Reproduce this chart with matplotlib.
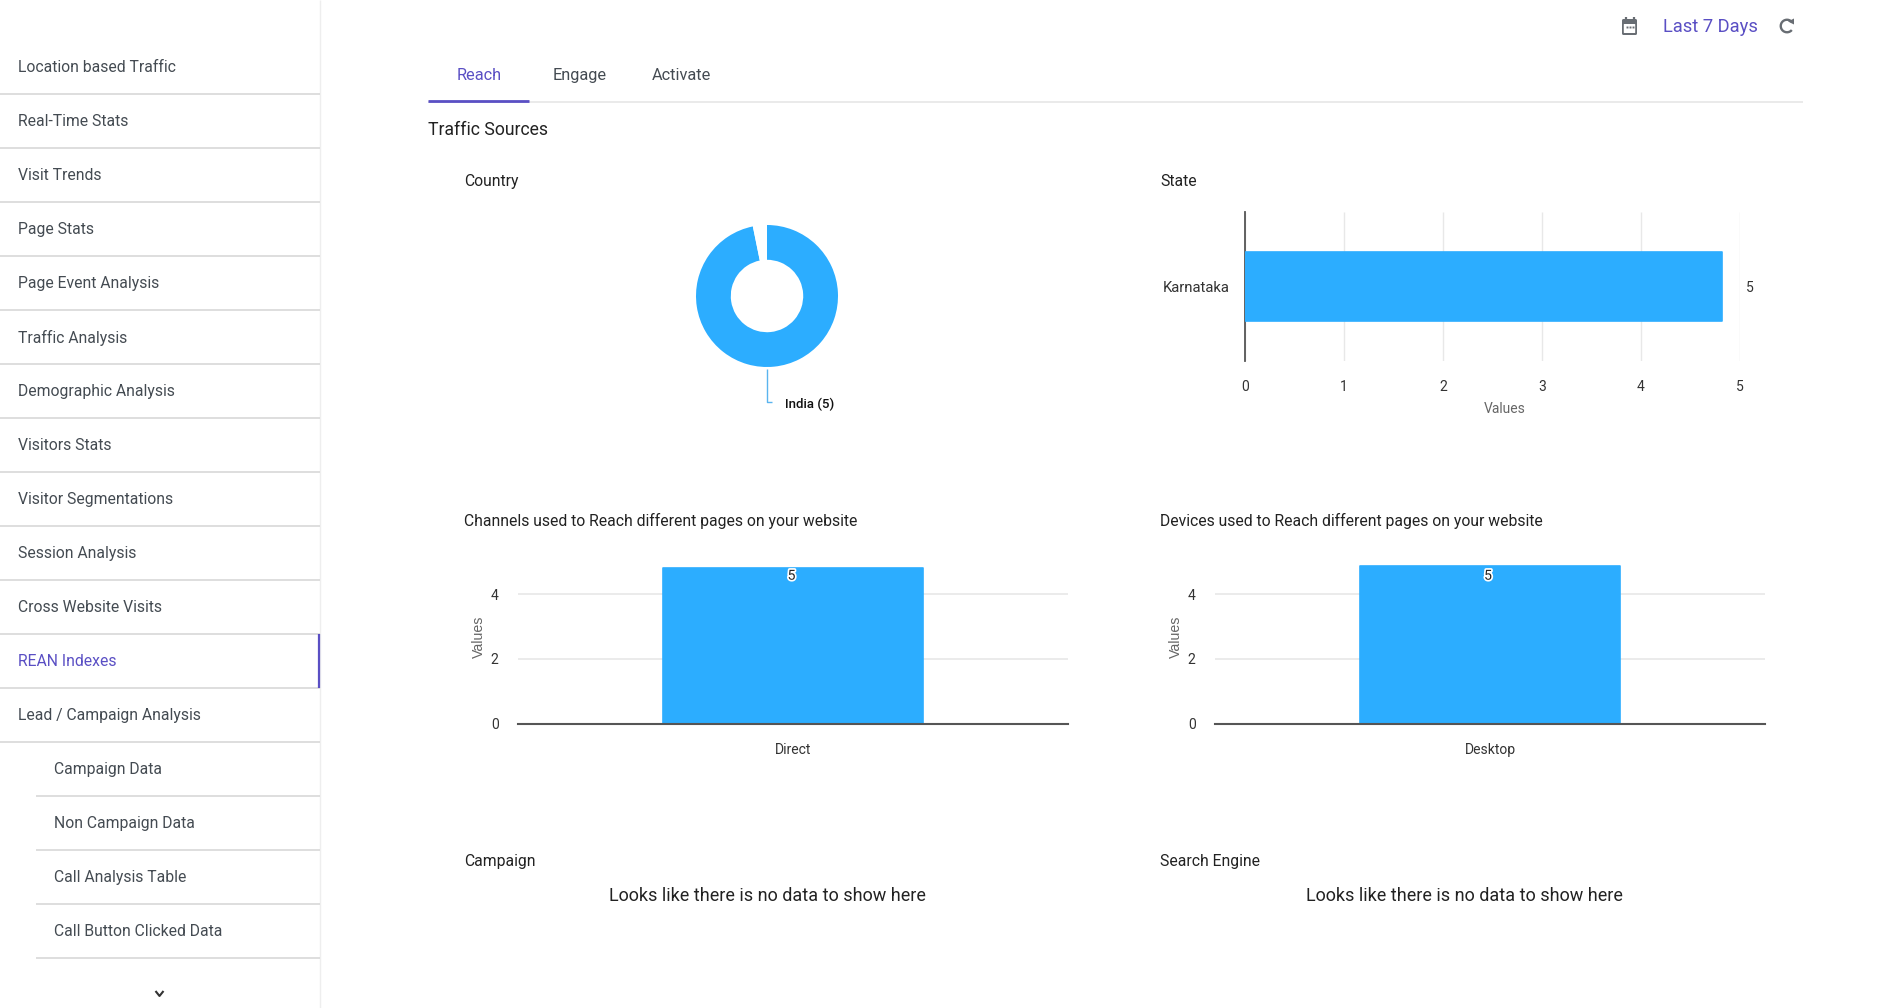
import matplotlib
matplotlib.use('Agg')
import matplotlib.pyplot as plt
import matplotlib.patheffects as pe
from matplotlib.patches import Arc, FancyBboxPatch, Polygon

W, H = 1900, 1008

# data
menu_items = ['Location based Traffic', 'Real-Time Stats', 'Visit Trends', 'Page Stats',
              'Page Event Analysis', 'Traffic Analysis', 'Demographic Analysis', 'Visitors Stats',
              'Visitor Segmentations', 'Session Analysis', 'Cross Website Visits', 'REAN Indexes',
              'Lead / Campaign Analysis']
submenu_items = ['Campaign Data', 'Non Campaign Data', 'Call Analysis Table', 'Call Button Clicked Data']
tabs = ['Reach', 'Engage', 'Activate']

country_names = ['India']
country_values = [5]
country_gap = 0.165

state_names = ['Karnataka']
state_labels = [5]
state_lengths = [4.82]
state_ticks = [0, 1, 2, 3, 4, 5]

channel_names = ['Direct']
channel_labels = [5]
channel_heights = [4.79]

device_names = ['Desktop']
device_labels = [5]
device_heights = [4.875]
column_ticks = [0, 2, 4]

BLUE = '#2cadff'
PURPLE = '#5a4fc4'
INK = '#222222'
GREY = '#444b52'
ICON = '#686d73'
RULE = '#d8d8d8'
FONT = 'Roboto'

plt.rcParams['font.family'] = [FONT, 'DejaVu Sans']
plt.rcParams['lines.solid_capstyle'] = 'butt'

fig = plt.figure(figsize=(W / 100, H / 100), dpi=100, facecolor='white')

# full page axes in pixel coordinates for the dashboard around the charts
page = fig.add_axes([0, 0, 1, 1])
page.set_xlim(0, W)
page.set_ylim(H, 0)
page.axis('off')


def px_axes(left, top, right, bottom):
    return fig.add_axes([left / W, 1 - bottom / H, (right - left) / W, (bottom - top) / H])


def label(x, y, s, size=11.3, color=INK, ha='left', **kw):
    page.text(x, y + 1.2, s, fontsize=size, color=color, ha=ha, va='center', **kw)


# sidebar
page.plot([320, 320], [0, H], color='#eeeeee', lw=1)
row = 54
for i, name in enumerate(menu_items):
    y = 40 + row * i
    color = PURPLE if name == 'REAN Indexes' else GREY
    label(18, y + 26.5, name, size=11.3, color=color)
    page.plot([0, 320], [y + 54.3, y + 54.3], color=RULE, lw=1.2)
for i, name in enumerate(submenu_items):
    y = 40 + row * (len(menu_items) + i)
    label(54, y + 26.5, name, size=11.3, color=GREY)
    page.plot([36, 320], [y + 54.3, y + 54.3], color=RULE, lw=1.2)
page.plot([319, 319], [634, 688], color=PURPLE, lw=1.6)
page.plot([155.5, 159.5, 163.5], [991, 996, 991], color='#333333', lw=1.5)

# tabs
for name, x in zip(tabs, [479, 580, 681]):
    label(x, 74.6, name, size=11.8, color=PURPLE if name == 'Reach' else GREY, ha='center')
page.plot([428, 1803], [101.5, 101.5], color='#e6e6e6', lw=1.2)
page.plot([428, 529], [100.5, 100.5], color=PURPLE, lw=2)

# date range
page.add_patch(FancyBboxPatch((1622, 19), 15, 16, boxstyle='round,pad=0,rounding_size=1.5',
                              fc=ICON, ec='none'))
page.add_patch(FancyBboxPatch((1623.8, 24), 11.4, 9, boxstyle='round,pad=0,rounding_size=0.5',
                              fc='white', ec='none'))
page.plot([1625.5, 1625.5], [17, 20], color=ICON, lw=1.6)
page.plot([1633.5, 1633.5], [17, 20], color=ICON, lw=1.6)
page.plot([1626.5, 1629.5, 1632.5], [27, 27, 27], ls='none', marker='s', ms=1.4, color=ICON, mew=0)
label(1663, 25.4, 'Last 7 Days', size=13.2, color=PURPLE)
page.add_patch(Arc((1787, 26), 12.5, 12.5, theta1=-320, theta2=-35, color=ICON, lw=1.7))
page.add_patch(Polygon([[1788, 21.5], [1794, 18.5], [1794, 24.5]], fc=ICON, ec='none'))

# section titles
label(428, 128.5, 'Traffic Sources', size=12.7)
label(464, 180, 'Country')
label(1160.5, 180, 'State')
label(464, 520, 'Channels used to Reach different pages on your website')
label(1160.5, 520, 'Devices used to Reach different pages on your website')
label(464, 860, 'Campaign')
label(1160.5, 860, 'Search Engine')
label(767.5, 894.7, 'Looks like there is no data to show here', size=13, ha='center')
label(1464, 894.7, 'Looks like there is no data to show here', size=13, ha='center')

# country donut
ax = px_axes(696, 225, 838, 367)
ax.pie(country_values + [country_gap], colors=[BLUE, 'white'], startangle=90, counterclock=False,
       radius=1, wedgeprops={'width': 0.49, 'linewidth': 0})
ax.set_xlim(-1, 1)
ax.set_ylim(-1, 1)
page.plot([767, 767, 772], [369, 402, 402], color='#5ab4ef', lw=1)
label(785, 403, f'{country_names[0]} ({country_values[0]})', size=9.5, color='#111111',
      fontweight='medium')

# state bars
ax = px_axes(1245, 212, 1739.7, 360.7)
ax.barh(state_names, state_lengths, height=0.46, color=BLUE, edgecolor=BLUE, linewidth=1.2,
        joinstyle='round', zorder=3)
ax.set_xlim(0, 5)
ax.set_ylim(-0.5, 0.5)
ax.set_xticks(state_ticks)
ax.grid(axis='x', color='#e8e8e8', lw=1, zorder=0)
for s in ['top', 'right', 'bottom']:
    ax.spines[s].set_visible(False)
ax.spines['left'].set_color('#555555')
ax.spines['left'].set_linewidth(1.3)
ax.tick_params(axis='both', length=0, labelsize=10, labelcolor='#333333')
ax.tick_params(axis='x', pad=14)
ax.tick_params(axis='y', pad=11)
for tick in ax.get_yticklabels():
    tick.set_fontsize(10.7)
label(1749.4, 286.8, str(state_labels[0]), size=10, color='#333333', ha='center')
label(1505, 407.5, 'Values', size=10, color='#666666', ha='center')


def column_chart(left, right, names, heights, labels, label_x):
    ax = px_axes(left, 561, right, 723.7)
    ax.bar(names, heights, width=0.473, color=BLUE, edgecolor=BLUE, linewidth=1.2,
           joinstyle='round', zorder=3)
    ax.set_xlim(-0.5, 0.5)
    ax.set_ylim(0, 5.02)
    ax.set_yticks(column_ticks)
    ax.grid(axis='y', color='#e8e8e8', lw=1.2, zorder=0)
    for s in ['top', 'right', 'left']:
        ax.spines[s].set_visible(False)
    ax.spines['bottom'].set_color('#555555')
    ax.spines['bottom'].set_linewidth(1.5)
    ax.spines['bottom'].set_zorder(4)
    ax.tick_params(axis='both', length=0, labelsize=10, labelcolor='#333333')
    ax.tick_params(axis='x', pad=13.6)
    ax.tick_params(axis='y', pad=14)
    label(label_x, 574.5, str(labels[0]), size=10, color='#222222', ha='center', zorder=5,
          path_effects=[pe.withStroke(linewidth=2.5, foreground='white')])
    page.text(left - 39.5, 636.5, 'Values', fontsize=10.2, color='#666666', rotation=90, ha='center', va='center',
              family=['Liberation Sans', 'DejaVu Sans'])


column_chart(518, 1068, channel_names, channel_heights, channel_labels, 791.5)
column_chart(1215, 1765, device_names, device_heights, device_labels, 1488)
# the labels above belong to the page axes, keep it on top of the charts
page.set_zorder(5)
page.patch.set_visible(False)

fig.savefig('out.png', dpi=100, facecolor='white')
